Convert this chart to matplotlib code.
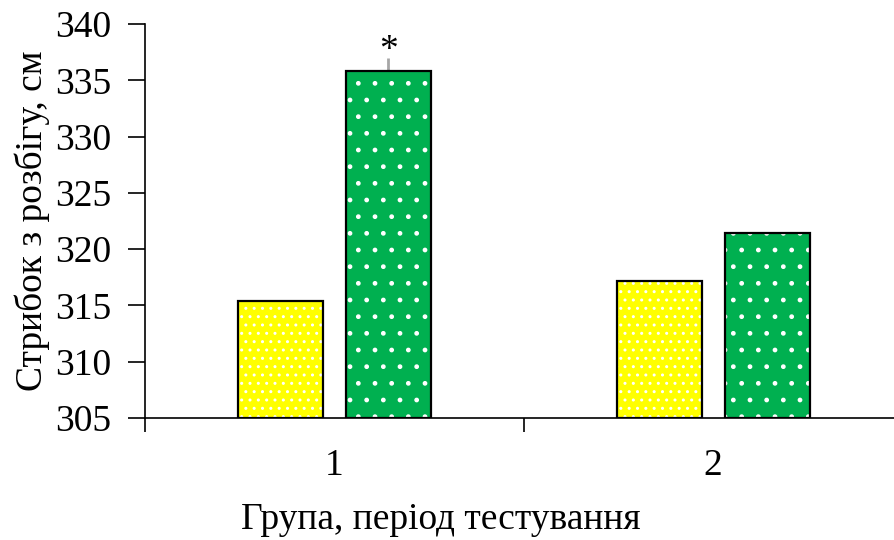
import matplotlib.pyplot as plt
import numpy as np

plt.rcParams['font.family'] = ['Liberation Serif', 'DejaVu Serif']

groups = ['1', '2']
before = [315.4, 317.2]
after = [335.8, 321.4]
after_err = [1.2, 0]
yticks = [305, 310, 315, 320, 325, 330, 335, 340]

x = np.arange(len(groups))
width = 0.224
offset = 0.1425

fig = plt.figure(figsize=(8.95, 5.4), dpi=100)
ax = fig.add_axes([145 / 895, 0.226, 750 / 895, 0.7296])

# filled bars with white dot hatching, then black outlines on top
ax.bar(x - offset, np.array(before) - 305, width, bottom=305, color='#ffff00',
       hatch='..', edgecolor='white', linewidth=0, zorder=2)
ax.bar(x + offset, np.array(after) - 305, width, bottom=305, color='#00b050',
       hatch='.', edgecolor='white', linewidth=0, zorder=2)
ax.bar(x - offset, np.array(before) - 305, width, bottom=305, fill=False,
       edgecolor='black', linewidth=1.6, zorder=3)
ax.bar(x + offset, np.array(after) - 305, width, bottom=305, fill=False,
       edgecolor='black', linewidth=1.6, zorder=3)

# upper error bar only, grey
ax.errorbar(x[0] + offset, after[0], yerr=[[0], [after_err[0]]], fmt='none',
            ecolor='#a6a6a6', elinewidth=2, capsize=0, zorder=1)
ax.text(x[0] + offset, after[0] + after_err[0] - 0.9, '*', ha='center',
        va='bottom', fontsize=27)

ax.set_xlim(-0.5, 1.48)
ax.set_ylim(305, 340)
ax.set_yticks(yticks)
ax.set_xticks([-0.5, 0.5, 1.48])
ax.set_xticklabels([])
ax.set_xticks(x, minor=True)
ax.set_xticklabels(groups, minor=True)
ax.tick_params(axis='x', which='minor', length=0, pad=22, labelsize=27)
ax.tick_params(axis='x', which='major', length=10, width=1.2)
ax.tick_params(axis='y', length=12, width=1.2, labelsize=27, pad=12)

for side in ['top', 'right']:
    ax.spines[side].set_visible(False)
ax.spines['left'].set_linewidth(1.2)
ax.spines['bottom'].set_linewidth(1.2)

ax.set_ylabel('Стрибок з розбігу, см', fontsize=27, labelpad=4)
ax.set_xlabel('Група, період тестування', fontsize=27)
ax.xaxis.set_label_coords(0.395, -0.215)

fig.savefig('out.png', dpi=100)
